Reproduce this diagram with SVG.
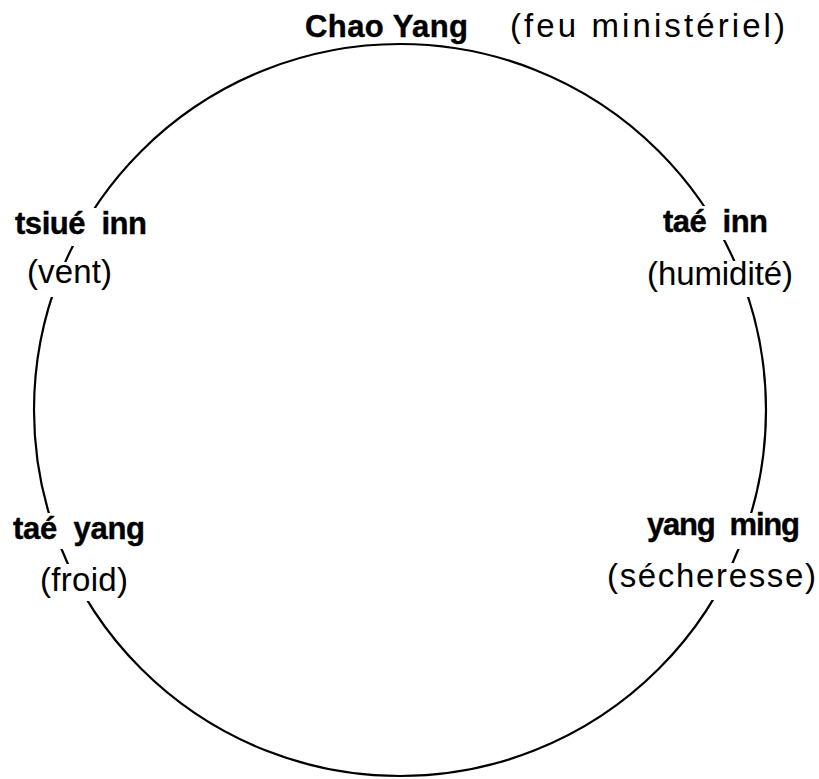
<svg xmlns="http://www.w3.org/2000/svg" width="819" height="779" viewBox="0 0 819 779">
<style>
.b{font-family:"Liberation Sans",Arial,Helvetica,sans-serif;font-weight:bold;font-size:31px;fill:#000;stroke:#000;stroke-width:0.4}
.r{font-family:"Liberation Sans",Arial,Helvetica,sans-serif;font-size:33px;fill:#000}
.m{fill:#fff;stroke:none}
</style>
<rect width="819" height="779" fill="#fff"/>
<g id="connectors">
<circle cx="400" cy="410" r="366" fill="none" stroke="#000" stroke-width="2.2"/>
</g>
<g id="chao-yang">
<text class="b" x="305" y="37" textLength="163" lengthAdjust="spacing">Chao Yang</text>
<text class="r" x="510" y="37" textLength="275" lengthAdjust="spacing">(feu ministériel)</text>
</g>
<g id="tsiue-inn">
<rect class="m" x="10" y="208" width="145" height="38"/>
<rect class="m" x="22" y="262" width="96" height="35"/>
<text class="b" x="15" y="234" textLength="132" lengthAdjust="spacing" xml:space="preserve">tsiué  inn</text>
<text class="r" x="27" y="283" textLength="85" lengthAdjust="spacing">(vent)</text>
</g>
<g id="tae-inn">
<rect class="m" x="655" y="206" width="120" height="34"/>
<rect class="m" x="640" y="261" width="160" height="36"/>
<text class="b" x="663" y="232" textLength="105" lengthAdjust="spacing" xml:space="preserve">taé  inn</text>
<text class="r" x="647" y="285" textLength="146" lengthAdjust="spacing">(humidité)</text>
</g>
<g id="tae-yang">
<rect class="m" x="8" y="513" width="145" height="36"/>
<rect class="m" x="34" y="564" width="100" height="37"/>
<text class="b" x="13" y="539" textLength="132" lengthAdjust="spacing" xml:space="preserve">taé  yang</text>
<text class="r" x="40" y="591" textLength="88" lengthAdjust="spacing">(froid)</text>
</g>
<g id="yang-ming">
<rect class="m" x="640" y="513" width="168" height="36"/>
<rect class="m" x="600" y="563" width="219" height="37"/>
<text class="b" x="647" y="535" textLength="153" lengthAdjust="spacing" xml:space="preserve">yang  ming</text>
<text class="r" x="607" y="587" textLength="209" lengthAdjust="spacing">(sécheresse)</text>
</g>
</svg>
